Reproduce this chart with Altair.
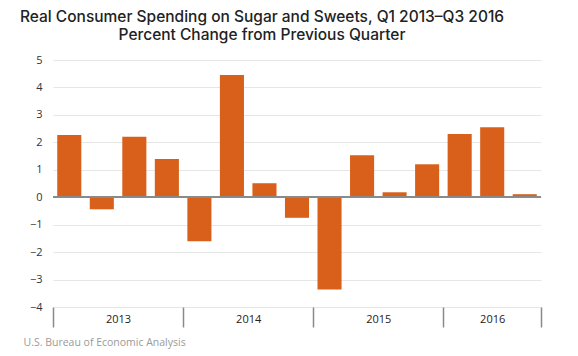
import altair as alt
import pandas as pd

quarters = ["Q1 2013", "Q2 2013", "Q3 2013", "Q4 2013",
            "Q1 2014", "Q2 2014", "Q3 2014", "Q4 2014",
            "Q1 2015", "Q2 2015", "Q3 2015", "Q4 2015",
            "Q1 2016", "Q2 2016", "Q3 2016"]
values = [2.27, -0.44, 2.20, 1.39,
          -1.60, 4.45, 0.51, -0.75,
          -3.36, 1.53, 0.18, 1.20,
          2.30, 2.55, 0.11]
years = ["2013", "2014", "2015", "2016"]
year_quarters = [4, 4, 4, 3]
y_ticks = [-4, -3, -2, -1, 0, 1, 2, 3, 4, 5]

title_lines = ["Real Consumer Spending on Sugar and Sweets, Q1 2013\u2013Q3 2016",
               "Percent Change from Previous Quarter"]
source = "U.S. Bureau of Economic Analysis"

BAR = "#D9601A"
n = len(quarters)

df = pd.DataFrame({"quarter": quarters, "value": values, "idx": list(range(n))})

bounds = [0]
for q in year_quarters:
    bounds.append(bounds[-1] + q)
centers = [(bounds[i] + bounds[i + 1]) / 2 for i in range(len(years))]
year_df = pd.DataFrame({"year": years, "center": centers})

label_expr = "''"
for c, y in zip(reversed(centers), reversed(years)):
    label_expr = f"datum.value == {c} ? '{y}' : ({label_expr})"

xscale = alt.Scale(domain=[0, n], nice=False, zero=False)
yscale = alt.Scale(domain=[y_ticks[0], y_ticks[-1]], nice=False, zero=False)

yaxis = alt.Axis(values=y_ticks, grid=True, gridColor="#e6e6e6", tickCount=len(y_ticks),
                 gridWidth=1, domain=False, ticks=False, labelPadding=11,
                 labelFontSize=11, labelColor="#333333", title=None)

bars = alt.Chart(df).transform_calculate(
    x0="datum.idx + 0.13", x1="datum.idx + 0.87"
).mark_bar(color=BAR).encode(
    x=alt.X("x0:Q", scale=xscale,
            axis=alt.Axis(values=bounds, labels=False, ticks=True, tickSize=20,
                          tickColor="#8a8a8a", tickWidth=1.5, domain=False,
                          grid=False, title=None, orient="bottom")),
    x2=alt.X2("x1:Q"),
    y=alt.Y("value:Q", scale=yscale, axis=yaxis),
    y2=alt.datum(0),
    tooltip=["quarter:N", "value:Q"],
)

zero = alt.Chart(df).mark_rule(color="#8a8a8a", strokeWidth=1.5).encode(
    y=alt.datum(0, scale=yscale, axis=yaxis)
)

year_axis = alt.Chart(year_df).mark_point(opacity=0).encode(
    x=alt.X("center:Q", scale=xscale,
            axis=alt.Axis(values=centers, labelExpr=label_expr, ticks=False,
                          domain=False, grid=False, labelPadding=6, orient="bottom",
                          labelFontSize=11, labelColor="#222222", labelFlush=False,
                          title=source, titleX=-30, titleY=35, titleAnchor="start",
                          titleAlign="left", titleBaseline="middle",
                          titleFontSize=10.5, titleFontWeight="normal",
                          titleColor="#9a9a9a", titleFont="Open Sans")),
)

chart = alt.layer(bars, zero, year_axis).resolve_axis(x="independent").properties(
    width=488, height=247,
    autosize=alt.AutoSizeParams(type="none"),
    padding={"left": 53, "top": 60, "right": 37, "bottom": 49},
    title=alt.TitleParams(text=title_lines, font="Inter", fontSize=15.5,
                          fontWeight=500, color="#222222", anchor="middle",
                          frame="group", dx=-35, offset=11, lineHeight=18),
).configure_view(strokeWidth=0).configure_axis(labelFont="Open Sans")

chart.save("out.html", embed_options={"renderer": "svg", "actions": False})
